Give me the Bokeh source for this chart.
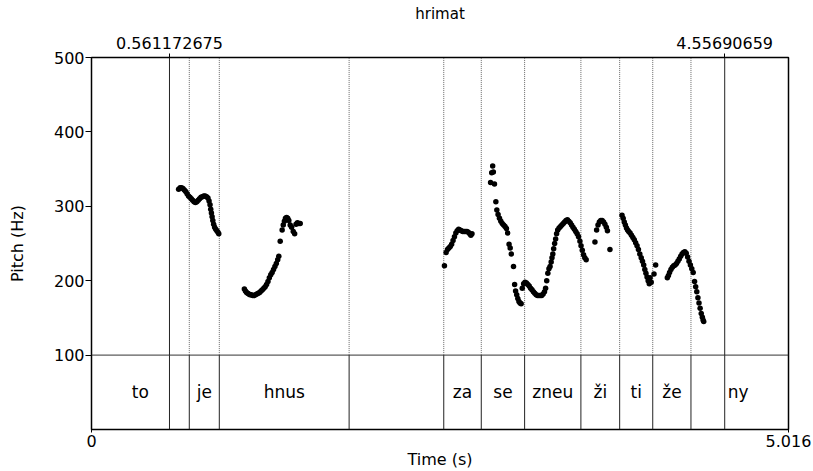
from bokeh.plotting import figure
from bokeh.models import Range1d, LinearAxis, FixedTicker
from bokeh.embed import file_html
from bokeh.resources import INLINE
from bokeh.core.properties import value

FONT = "DejaVu Sans"

# Time span of the recording (s) and displayed pitch range (Hz)
t_start, t_end = 0.0, 5.016
f_floor, f_ceiling = 100, 500

# Pitch track: sample times (s)
pitch_t = [
    # je
    0.627, 0.638, 0.648, 0.658, 0.668, 0.678, 0.688, 0.698, 0.708, 0.718, 0.728, 0.738,
    0.748, 0.758, 0.768, 0.778, 0.788, 0.798, 0.808, 0.818, 0.828, 0.838, 0.846, 0.853,
    0.858, 0.863, 0.868, 0.873, 0.879, 0.886, 0.894, 0.902, 0.910, 0.916,
    # hnus
    1.100, 1.108, 1.116, 1.124, 1.132, 1.140, 1.150, 1.160, 1.170, 1.180, 1.190, 1.200,
    1.210, 1.220, 1.230, 1.240, 1.250, 1.260, 1.270, 1.280, 1.290, 1.300, 1.310, 1.320,
    1.330, 1.340, 1.348, 1.358, 1.372, 1.380, 1.388, 1.396, 1.404, 1.412, 1.420, 1.430,
    1.440, 1.452, 1.462, 1.472, 1.482, 1.492, 1.502,
    # za
    2.540, 2.552, 2.562, 2.572, 2.582, 2.592, 2.602, 2.612, 2.622, 2.632, 2.642, 2.652,
    2.662, 2.672, 2.682, 2.692, 2.702, 2.712, 2.722, 2.730, 2.738,
    # se
    2.872, 2.880, 2.887, 2.892, 2.900, 2.910, 2.917, 2.926, 2.936, 2.946, 2.956, 2.966,
    2.976, 2.986, 2.995, 3.005, 3.013, 3.021, 3.037, 3.045, 3.052, 3.060, 3.068, 3.076,
    3.084, 3.092,
    # zneu
    3.100, 3.110, 3.120, 3.130, 3.140, 3.150, 3.160, 3.170, 3.180, 3.190, 3.200, 3.210,
    3.220, 3.230, 3.240, 3.250, 3.260, 3.268, 3.276, 3.284, 3.292, 3.300, 3.308, 3.314,
    3.320, 3.326, 3.333, 3.340, 3.347, 3.355, 3.365, 3.375, 3.385, 3.395, 3.405, 3.415,
    3.425, 3.435, 3.445, 3.455, 3.465, 3.475, 3.485, 3.495, 3.505, 3.515, 3.523, 3.532,
    3.541, 3.550, 3.560,
    # ži
    3.623, 3.635, 3.645, 3.655, 3.665, 3.675, 3.685, 3.695, 3.705, 3.713, 3.731,
    # ti
    3.818, 3.826, 3.834, 3.842, 3.850, 3.858, 3.866, 3.876, 3.886, 3.896, 3.906, 3.916,
    3.926, 3.936, 3.946, 3.956, 3.965, 3.974, 3.982, 3.990, 3.998, 4.006, 4.014, 4.020,
    4.028, 4.048, 4.060,
    # že
    4.144, 4.152, 4.160, 4.170, 4.180, 4.190, 4.200, 4.210, 4.220, 4.230, 4.240, 4.250,
    4.260, 4.270, 4.280, 4.290, 4.300, 4.310, 4.320, 4.330, 4.340, 4.348, 4.356, 4.364,
    4.372, 4.380, 4.388, 4.396, 4.402, 4.406,
]

# Pitch track: F0 values (Hz)
pitch_hz = [
    # je
    323, 325, 325, 324, 322, 320, 317, 314, 312, 310, 308, 306,
    305, 306, 308, 310, 312, 313, 314, 314, 313, 311, 307, 302,
    296, 291, 286, 281, 276, 272, 269, 267, 265, 263,
    # hnus
    189, 186, 184, 183, 182, 181, 181, 180, 180, 181, 182, 183,
    184, 186, 188, 190, 192, 195, 199, 204, 208, 211, 215, 219,
    223, 228, 233, 253, 268, 275, 280, 284, 285, 284, 281, 275,
    272, 266, 263, 276, 278, 277, 277,
    # za
    220, 238, 242, 244, 246, 249, 254, 259, 264, 267, 269, 268,
    267, 266, 266, 266, 266, 265, 263, 261, 263,
    # se
    332, 345, 354, 346, 330, 306, 295, 289, 284, 280, 277, 275,
    273, 270, 264, 249, 244, 236, 219, 195, 186, 181, 176, 172,
    170, 169,
    # zneu
    190, 196, 198, 197, 195, 193, 190, 188, 185, 183, 181, 180,
    180, 180, 180, 182, 185, 190, 200, 210, 216, 219, 225, 231,
    236, 243, 250, 256, 263, 268, 271, 273, 275, 277, 279, 281,
    282, 280, 278, 275, 272, 269, 266, 263, 259, 253, 247, 241,
    235, 231, 228,
    # ži
    252, 268, 275, 279, 281, 281, 279, 276, 272, 267, 242,
    # ti
    288, 284, 279, 275, 271, 268, 266, 264, 261, 258, 255, 251,
    247, 242, 236, 231, 226, 221, 215, 210, 205, 200, 196, 204,
    198, 209, 221,
    # že
    204, 207, 211, 215, 218, 220, 221, 223, 226, 229, 233, 236,
    238, 239, 237, 232, 226, 221, 216, 211, 199, 192, 185, 177,
    170, 163, 156, 151, 147, 145,
]

# Word tier: interval boundaries (s), marked times, labels and label positions
boundaries = [0.561172675, 0.7037, 0.9198, 1.854, 2.535, 2.805, 3.117,
              3.522, 3.801, 4.039, 4.314, 4.55690659]
marked_times = [0.561172675, 4.55690659]
marked_text = ["0.561172675", "4.55690659"]
words = ["to", "je", "hnus", "za", "se", "zneu", "ži", "ti", "že", "ny"]
word_t = [0.351, 0.812, 1.387, 2.670, 2.961, 3.320, 3.662, 3.920, 4.177, 4.654]

pitch_ticks = [100, 200, 300, 400, 500]

p = figure(width=813, height=471, output_backend="svg", toolbar_location=None,
           x_range=Range1d(t_start, t_end), y_range=Range1d(0, f_ceiling),
           min_border_left=91, min_border_right=25, min_border_top=57,
           min_border_bottom=42)
p.grid.visible = False
p.outline_line_color = "black"
p.outline_line_width = 1.5
p.background_fill_color = "white"
p.border_fill_color = "white"

# left axis: pitch
ya = p.yaxis[0]
ya.ticker = FixedTicker(ticks=pitch_ticks)
ya.axis_label = "Pitch (Hz)"
ya.axis_line_color = None
ya.major_tick_in = 0
ya.major_tick_out = 6
ya.minor_tick_line_color = None
ya.major_label_standoff = 1
ya.axis_label_standoff = 24

# bottom axis: time
xa = p.xaxis[0]
xa.ticker = FixedTicker(ticks=[t_start, t_end])
xa.major_label_overrides = {t_start: "0", t_end: "5.016"}
xa.axis_label = "Time (s)"
xa.axis_line_color = None
xa.major_tick_in = 0
xa.major_tick_out = 3
xa.minor_tick_line_color = None
xa.major_label_standoff = 2
xa.axis_label_standoff = 0

# top axis: marked times and title
ta = LinearAxis(ticker=FixedTicker(ticks=marked_times),
                major_label_overrides=dict(zip(marked_times, marked_text)),
                axis_label="hrimat")
ta.axis_line_color = None
ta.major_tick_in = 0
ta.major_tick_out = 4
ta.minor_tick_line_color = None
ta.major_label_standoff = 5
ta.axis_label_standoff = 11
p.add_layout(ta, "above")

for ax in (ya, xa, ta):
    ax.major_label_text_font = FONT
    ax.major_label_text_font_size = "16px"
    ax.major_label_text_color = "black"
    ax.axis_label_text_font = FONT
    ax.axis_label_text_font_size = "16px"
    ax.axis_label_text_font_style = "normal"
    ax.axis_label_text_color = "black"
    ax.major_tick_line_color = "black"
ta.axis_label_text_font_size = "15px"

# separator between pitch area and word tier
p.segment(x0=[t_start], x1=[t_end], y0=[f_floor], y1=[f_floor],
          line_color="#333333", line_width=1)

# boundaries: dotted over the pitch area, solid within the tier
dotted = [b for b in boundaries if b not in marked_times]
p.segment(x0=dotted, x1=dotted, y0=[f_floor] * len(dotted), y1=[f_ceiling] * len(dotted),
          line_color="#666666", line_width=1, line_dash="1 1")
p.segment(x0=marked_times, x1=marked_times, y0=[f_floor] * 2, y1=[f_ceiling] * 2,
          line_color="#222222", line_width=1)
p.segment(x0=boundaries, x1=boundaries, y0=[0] * len(boundaries),
          y1=[f_floor] * len(boundaries), line_color="#222222", line_width=1)

# word labels
p.text(x=word_t, y=[f_floor / 2] * len(words), text=words,
       text_font=value(FONT), text_font_size="17px", text_color="black",
       text_align="center", text_baseline="middle")

# pitch points
p.scatter(pitch_t, pitch_hz, size=5.5, fill_color="black", line_color=None)

open("out.html", "w").write(file_html(p, INLINE))
